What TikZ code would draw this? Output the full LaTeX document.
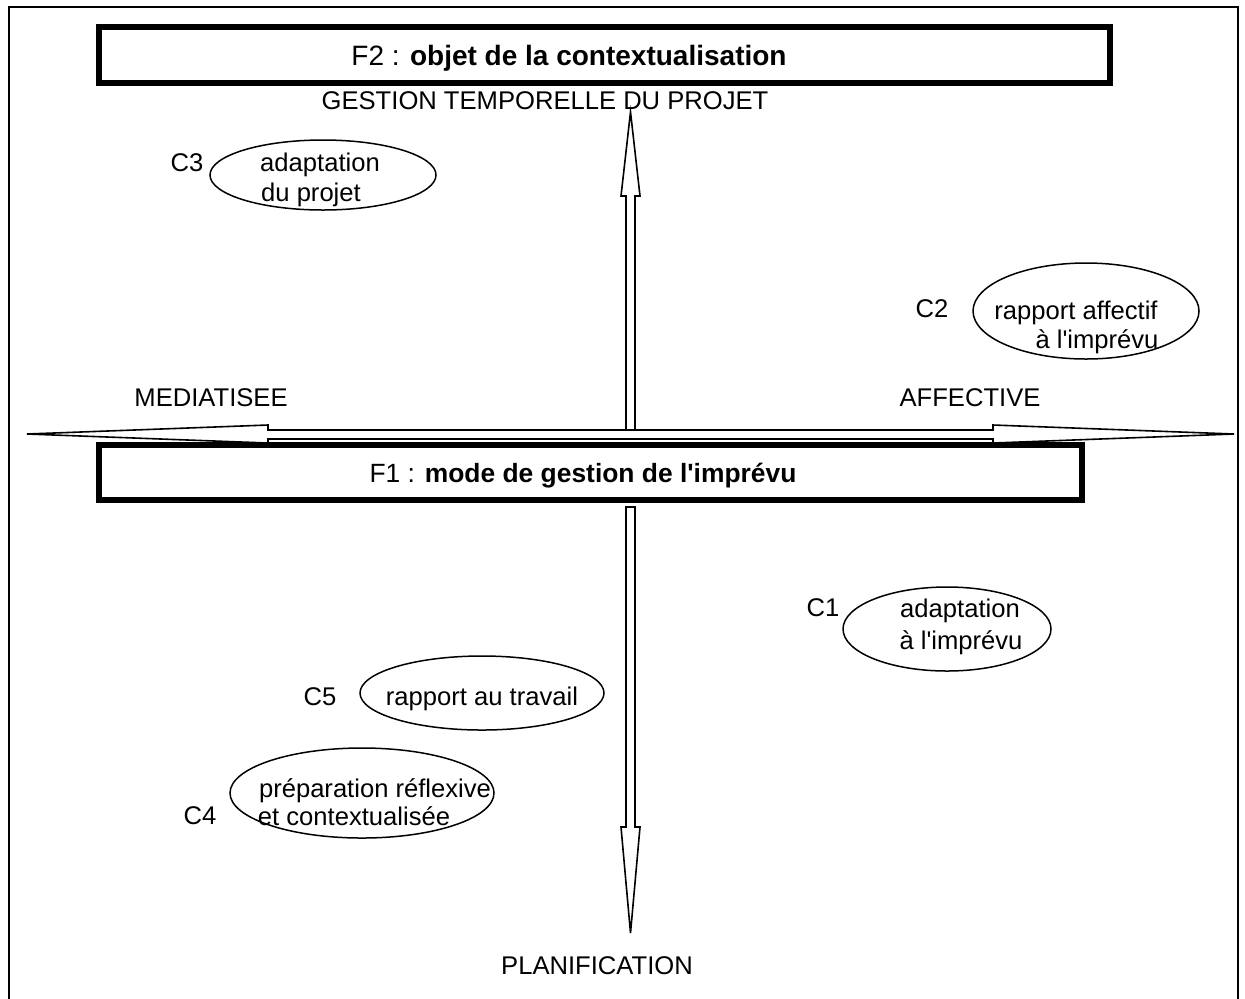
\documentclass[tikz,border=0pt]{standalone}
\usepackage{fontspec}
\setmainfont{Liberation Sans}[Ligatures=TeXOff]
\usetikzlibrary{shapes.geometric}
\begin{document}
\begin{tikzpicture}[x=0.5pt,y=-0.5pt,
  txt/.style={inner sep=0pt, font=\fontsize{12.8pt}{15pt}\selectfont, text height=9.2pt, text depth=0pt},
  bigbox/.style={draw, line width=3pt, fill=white, inner sep=0pt},
  blockarrow/.style={draw, fill=white, line width=0.8pt, line join=miter},
  bubble/.style={draw, ellipse, line width=0.75pt, inner sep=0pt},
  frame/.style={line width=0.8pt}]
\useasboundingbox (0,0) rectangle (1245,998);
\draw[frame] (9,1003) -- (9,7) -- (1238,7) -- (1238,1003);

% vertical up arrow
\coordinate (uptip) at (630.5,112);
\draw[blockarrow] (626,430) -- (626,196) -- (621,196) -- (uptip) -- (640,196) -- (635,196) -- (635,430);
% horizontal double arrow
\coordinate (ltip) at (27,434);
\coordinate (rtip) at (1234,434);
\draw[blockarrow] (ltip) -- (268,425) -- (268,430) -- (993,430) -- (993,425) -- (rtip) -- (993,443) -- (993,439) -- (268,439) -- (268,443) -- cycle;
% vertical down arrow
\coordinate (dntip) at (630.5,933);
\draw[blockarrow] (626,507) -- (626,827) -- (621,827) -- (dntip) -- (640,827) -- (635,827) -- (635,507) -- cycle;

% boxes
\node[bigbox, minimum width=505.5pt, minimum height=28pt] (F2) at (604.5,55) {};
\node[txt, font=\fontsize{14pt}{16pt}\selectfont, text height=10pt] (F2t) at (569,55) {F2 : \textbf{objet de la contextualisation}};
\node[bigbox, minimum width=491.5pt, minimum height=27.5pt] (F1) at (590.5,472.5) {};
\node[txt, font=\fontsize{13.2pt}{16pt}\selectfont, text height=9.5pt] (F1t) at (583,473) {F1 : \textbf{mode de gestion de l'imprévu}};

% axis labels
\node[txt] (gtp) at (545,100) {GESTION TEMPORELLE DU PROJET};
\node[txt] (med) at (211,397) {MEDIATISEE};
\node[txt] (aff) at (970,397) {AFFECTIVE};
\node[txt] (pla) at (597,965) {PLANIFICATION};

% C3
\node[bubble, minimum width=113pt, minimum height=35pt] (e3) at (323,175) {};
\node[txt] (c3) at (187,162) {C3};
\node[txt] (c3a) at (320,162) {adaptation};
\node[txt] (c3b) at (311,192) {du projet};
% C2
\node[bubble, minimum width=113pt, minimum height=48pt] (e2) at (1086,311) {};
\node[txt] (c2) at (932,308) {C2};
\node[txt] (c2a) at (1076,310) {rapport affectif};
\node[txt] (c2b) at (1097,339) {à l'imprévu};
% C1
\node[bubble, minimum width=104pt, minimum height=42pt] (e1) at (947,629) {};
\node[txt] (c1) at (823,607) {C1};
\node[txt] (c1a) at (960,608) {adaptation};
\node[txt] (c1b) at (961,640) {à l'imprévu};
% C5
\node[bubble, minimum width=122pt, minimum height=37pt] (e5) at (482,693) {};
\node[txt] (c5) at (320,696) {C5};
\node[txt] (c5a) at (482,696) {rapport au travail};
% C4
\node[bubble, minimum width=132pt, minimum height=45pt] (e4) at (362,793) {};
\node[txt] (c4) at (200,815) {C4};
\node[txt] (c4a) at (375,788) {préparation réflexive};
\node[txt] (c4b) at (354,816) {et contextualisée};
\end{tikzpicture}
\end{document}
